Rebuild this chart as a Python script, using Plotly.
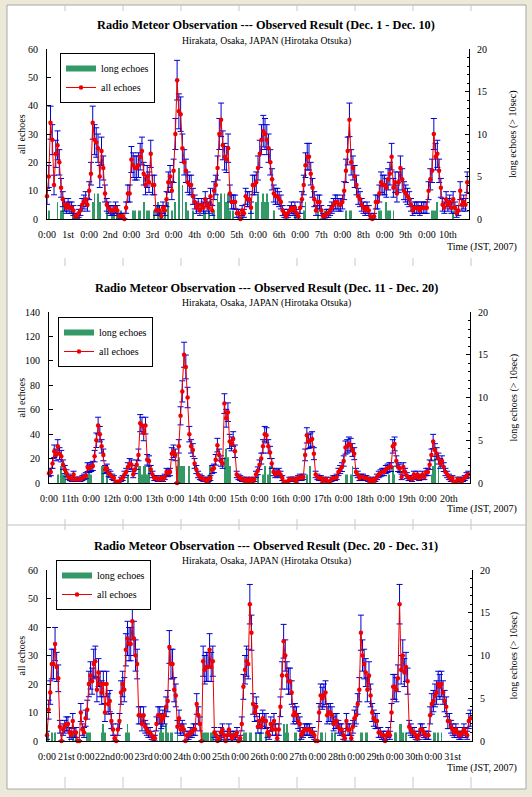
"""Radio meteor echo counts, Dec. 2007 (three 10-day panels)."""

import plotly.graph_objects as go

# ---------------------------------------------------------------- data
# hourly counts of all echoes, one row per day (0:00 .. 23:00 JST)
ALL_DEC01_10 = [
    8, 15, 34, 28, 12, 23, 26, 20, 11, 7, 5, 4, 5, 4, 4, 3, 1, 1, 2, 3, 5, 6, 7, 5,
    10, 16, 34, 28, 27, 25, 15, 24, 18, 9, 5, 4, 3, 3, 3, 4, 3, 1, 1, 1, 0, 4, 9, 9,
    21, 19, 18, 18, 19, 22, 24, 16, 12, 15, 13, 23, 12, 12, 3, 3, 3, 1, 4, 3, 7, 13, 15, 10,
    17, 30, 49, 38, 37, 25, 20, 17, 13, 12, 12, 8, 6, 4, 5, 3, 5, 4, 7, 5, 4, 8, 3, 10,
    12, 18, 30, 35, 26, 22, 21, 25, 9, 6, 6, 6, 2, 2, 0, 3, 2, 8, 7, 7, 4, 12, 12, 13,
    18, 23, 28, 31, 30, 28, 25, 20, 14, 9, 8, 8, 7, 6, 3, 2, 1, 2, 3, 4, 3, 4, 2, 1,
    4, 7, 12, 19, 22, 22, 16, 11, 7, 3, 6, 6, 3, 1, 1, 2, 2, 3, 4, 5, 6, 6, 5, 5,
    6, 10, 17, 24, 35, 20, 18, 15, 12, 8, 7, 5, 4, 3, 4, 3, 1, 0, 1, 6, 6, 9, 13, 12,
    12, 11, 14, 16, 22, 11, 13, 9, 13, 18, 14, 10, 9, 8, 7, 5, 3, 4, 4, 4, 3, 4, 4, 4,
    4, 10, 14, 17, 30, 22, 23, 17, 11, 5, 4, 7, 5, 6, 4, 7, 4, 2, 3, 10, 5, 6, 5, 13,
]
ALL_DEC11_20 = [
    8, 9, 16, 26, 23, 30, 24, 22, 15, 11, 8, 5, 4, 3, 7, 3, 3, 3, 3, 4, 5, 6, 13, 12,
    13, 14, 22, 35, 47, 40, 30, 23, 11, 12, 8, 7, 5, 4, 1, 1, 1, 3, 4, 7, 9, 13, 16, 15,
    7, 11, 15, 23, 49, 47, 41, 47, 19, 18, 11, 7, 4, 4, 3, 3, 4, 3, 5, 9, 8, 9, 24, 26,
    23, 0, 30, 55, 75, 105, 95, 70, 40, 30, 27, 16, 11, 7, 5, 4, 3, 3, 1, 3, 4, 11, 12, 19,
    31, 23, 18, 16, 65, 53, 58, 34, 32, 36, 26, 7, 5, 4, 3, 3, 1, 3, 1, 3, 1, 3, 7, 10,
    15, 20, 30, 40, 39, 30, 25, 16, 9, 7, 8, 9, 7, 4, 1, 1, 1, 3, 3, 3, 3, 1, 4, 5,
    4, 5, 23, 39, 34, 35, 36, 24, 7, 5, 4, 4, 1, 3, 3, 1, 1, 3, 4, 4, 5, 9, 11, 13,
    18, 29, 30, 32, 31, 27, 24, 9, 7, 4, 5, 5, 4, 4, 3, 1, 3, 1, 3, 5, 7, 8, 9, 9,
    11, 12, 13, 13, 30, 32, 18, 13, 12, 5, 13, 9, 6, 4, 4, 3, 7, 5, 7, 4, 5, 7, 5, 9,
    9, 15, 23, 34, 27, 24, 20, 16, 18, 13, 9, 7, 5, 3, 4, 1, 1, 3, 3, 1, 3, 4, 6, 7,
]
ALL_DEC21_31 = [
    2, 11, 17, 27, 27, 34, 26, 22, 5, 0, 4, 5, 6, 6, 3, 2, 7, 3, 3, 0, 0, 10, 4, 3,
    8, 11, 20, 23, 21, 27, 28, 18, 24, 20, 17, 20, 10, 20, 13, 14, 7, 4, 1, 0, 4, 7, 17, 20,
    18, 32, 36, 34, 34, 42, 36, 30, 27, 9, 9, 6, 9, 5, 4, 3, 3, 2, 1, 1, 6, 9, 9, 7,
    8, 9, 12, 14, 33, 27, 27, 18, 16, 5, 8, 4, 5, 4, 0, 2, 2, 3, 3, 4, 4, 13, 9, 6,
    0, 28, 25, 26, 26, 32, 26, 28, 3, 2, 0, 1, 3, 4, 2, 0, 2, 4, 2, 1, 2, 2, 3, 0,
    1, 6, 19, 25, 28, 27, 48, 38, 13, 10, 12, 5, 7, 5, 8, 7, 7, 3, 2, 6, 4, 7, 4, 1,
    4, 12, 23, 35, 30, 23, 21, 21, 17, 9, 10, 9, 7, 6, 2, 3, 4, 4, 4, 4, 3, 3, 2, 0,
    0, 10, 16, 15, 16, 17, 9, 10, 10, 9, 6, 7, 7, 5, 4, 4, 2, 1, 7, 4, 4, 1, 5, 8,
    9, 13, 18, 38, 30, 27, 24, 18, 23, 16, 10, 8, 7, 7, 3, 3, 2, 2, 0, 2, 3, 2, 10, 19,
    19, 18, 22, 48, 25, 30, 24, 26, 21, 5, 4, 3, 3, 2, 1, 2, 4, 4, 3, 2, 2, 2, 9, 13,
    14, 16, 17, 20, 19, 20, 17, 14, 12, 7, 7, 5, 4, 3, 4, 3, 2, 2, 3, 4, 3, 2, 7, 8,
]

# hourly counts of long echoes (> 10 sec)
LONG_DEC01_10 = [
    0, 1, 0, 0, 0, 0, 2, 0, 1, 2, 0, 0, 0, 0, 0, 1, 0, 0, 1, 0, 0, 0, 0, 0,
    0, 0, 2, 3, 0, 3, 2, 0, 0, 0, 1, 0, 0, 1, 1, 0, 1, 0, 1, 0, 0, 0, 0, 0,
    0, 1, 1, 0, 1, 1, 0, 2, 0, 1, 1, 0, 0, 1, 0, 2, 0, 1, 0, 1, 0, 2, 0, 1,
    0, 2, 0, 6, 0, 4, 0, 2, 1, 0, 0, 1, 0, 0, 0, 0, 0, 2, 1, 0, 1, 0, 0, 1,
    0, 3, 2, 3, 0, 3, 2, 3, 1, 0, 1, 0, 0, 0, 0, 1, 0, 0, 0, 0, 1, 0, 0, 2,
    3, 0, 2, 3, 2, 3, 2, 0, 0, 1, 0, 0, 0, 0, 0, 0, 0, 0, 0, 0, 0, 1, 0, 0,
    0, 0, 1, 2, 0, 0, 0, 0, 0, 0, 1, 0, 0, 0, 1, 0, 0, 0, 0, 0, 0, 0, 0, 0,
    0, 0, 1, 0, 1, 1, 0, 0, 0, 0, 0, 0, 0, 0, 0, 0, 0, 0, 0, 0, 0, 1, 1, 0,
    0, 2, 1, 1, 0, 1, 0, 0, 0, 0, 0, 0, 0, 0, 0, 0, 0, 0, 0, 0, 0, 0, 0, 0,
    0, 0, 0, 1, 1, 1, 2, 0, 0, 0, 0, 0, 0, 0, 0, 1, 0, 0, 0, 0, 0, 0, 0, 0,
]
LONG_DEC11_20 = [
    0, 0, 0, 0, 0, 1, 0, 2, 1, 2, 0, 0, 0, 0, 0, 0, 0, 0, 0, 0, 0, 0, 1, 2,
    1, 0, 0, 0, 0, 0, 2, 2, 0, 2, 0, 0, 0, 0, 0, 0, 0, 0, 0, 0, 0, 1, 0, 0,
    0, 0, 0, 2, 2, 1, 2, 2, 1, 2, 0, 0, 0, 0, 0, 0, 0, 0, 0, 0, 0, 0, 0, 0,
    0, 2, 3, 2, 2, 2, 0, 0, 2, 0, 0, 0, 0, 0, 0, 0, 0, 0, 0, 1, 2, 0, 0, 0,
    0, 0, 0, 0, 3, 4, 3, 2, 0, 0, 0, 0, 0, 0, 0, 0, 0, 0, 0, 0, 0, 0, 0, 1,
    0, 0, 1, 2, 0, 1, 2, 0, 0, 0, 0, 0, 0, 0, 0, 0, 0, 0, 0, 0, 0, 0, 0, 0,
    0, 0, 0, 1, 0, 2, 0, 0, 0, 0, 0, 0, 0, 0, 0, 0, 0, 0, 0, 0, 0, 0, 0, 0,
    0, 1, 1, 0, 1, 2, 0, 0, 0, 0, 0, 0, 0, 0, 0, 0, 0, 0, 0, 0, 0, 0, 0, 0,
    0, 0, 1, 0, 2, 1, 0, 0, 0, 0, 0, 0, 0, 0, 0, 0, 0, 0, 0, 0, 0, 0, 0, 0,
    0, 0, 1, 2, 3, 0, 2, 0, 0, 0, 0, 0, 0, 0, 0, 0, 0, 0, 0, 0, 0, 0, 0, 0,
]
LONG_DEC21_31 = [
    2, 1, 0, 1, 0, 1, 0, 0, 0, 1, 0, 0, 0, 0, 1, 0, 1, 0, 1, 0, 0, 0, 0, 0,
    0, 1, 1, 1, 0, 0, 0, 0, 0, 0, 1, 2, 1, 0, 0, 0, 0, 0, 0, 0, 0, 0, 0, 0,
    0, 1, 2, 1, 0, 0, 0, 0, 0, 0, 0, 0, 0, 0, 0, 0, 0, 0, 0, 0, 0, 0, 1, 2,
    1, 0, 2, 1, 0, 1, 1, 0, 0, 1, 0, 0, 0, 0, 0, 0, 0, 0, 0, 0, 0, 0, 0, 0,
    0, 1, 1, 1, 1, 0, 1, 1, 0, 0, 0, 0, 1, 0, 0, 0, 0, 0, 0, 1, 0, 0, 0, 0,
    0, 0, 1, 1, 1, 0, 1, 1, 0, 0, 1, 0, 1, 1, 0, 0, 1, 0, 0, 0, 0, 0, 0, 0,
    0, 0, 0, 2, 1, 2, 1, 0, 0, 0, 1, 1, 0, 1, 0, 0, 0, 0, 0, 0, 0, 0, 0, 0,
    0, 0, 1, 1, 0, 1, 0, 0, 0, 1, 0, 1, 0, 0, 0, 0, 0, 0, 0, 0, 0, 0, 0, 0,
    0, 0, 0, 1, 1, 0, 1, 1, 0, 0, 0, 0, 0, 0, 0, 0, 0, 0, 0, 0, 0, 0, 0, 0,
    1, 1, 0, 2, 2, 1, 0, 1, 0, 0, 0, 0, 0, 0, 0, 0, 0, 0, 0, 0, 0, 0, 0, 0,
    1, 1, 0, 1, 0, 1, 0, 0, 0, 0, 0, 0, 0, 0, 0, 0, 0, 0, 0, 0, 0, 0, 0, 0,
]

DAYS_DEC01_10 = ["1st", "2nd", "3rd", "4th", "5th", "6th", "7th", "8th", "9th", "10th"]
DAYS_DEC11_20 = ["11th", "12th", "13th", "14th", "15th", "16th", "17th", "18th", "19th", "20th"]
DAYS_DEC21_31 = ["21st", "22nd", "23rd", "24th", "25th", "26th", "27th", "28th", "29th", "30th", "31st"]

TITLES = [
    "Radio Meteor Observation --- Observed Result (Dec. 1 - Dec. 10)",
    "Radio Meteor Observation --- Observed Result (Dec. 11 - Dec. 20)",
    "Radio Meteor Observation --- Observed Result (Dec. 20 - Dec. 31)",
]
SUBTITLE = "Hirakata, Osaka, JAPAN (Hirotaka Otsuka)"
LEFT_MAX = [60, 140, 60]
LEFT_DTICK = [10, 20, 10]
RIGHT_MAX = 20

# ---------------------------------------------------------------- layout (pixels)
W, H = 532, 797
FONT = "Liberation Serif"
GREEN = "#339966"
RED = "#f00000"
BLUE = "#0000d0"
BEIGE = "#ece9d8"

GEOM = [
    dict(x0=47, x1=469, top=49, bottom=219, title=25, sub=41, time=247, leg=(60, 53)),
    dict(x0=49, x1=470, top=312, bottom=483, title=288, sub=303, time=509, leg=(58, 317)),
    dict(x0=47, x1=472, top=570, bottom=741, title=546, sub=561, time=768, leg=(56, 560)),
]


def px_x(v):
    return v / W


def px_y(v):
    return 1 - v / H


panels = [
    (ALL_DEC01_10, LONG_DEC01_10, DAYS_DEC01_10),
    (ALL_DEC11_20, LONG_DEC11_20, DAYS_DEC11_20),
    (ALL_DEC21_31, LONG_DEC21_31, DAYS_DEC21_31),
]

fig = go.Figure()
layout = {}
annotations = []
tickfont = dict(family=FONT, size=10, color="black")

for k, ((all_echoes, long_echoes, days), g) in enumerate(zip(panels, GEOM), start=1):
    sfx = "" if k == 1 else str(k)
    xid = "x" + sfx
    y_long = "y" if k == 1 else f"y{2 * k - 1}"
    y_all = f"y{2 * k}"
    leg = "legend" + sfx
    hours = list(range(len(all_echoes)))

    # legend swatch for the long echoes (wide flat bar like the original)
    fig.add_trace(go.Scatter(
        x=[None], y=[None], mode="lines", name="long echoes",
        line=dict(color=GREEN, width=6), xaxis=xid, yaxis=y_long, legend=leg,
    ))
    fig.add_trace(go.Bar(
        x=hours, y=long_echoes, width=0.45, marker=dict(color=GREEN, line_width=0),
        showlegend=False, xaxis=xid, yaxis=y_long,
    ))
    fig.add_trace(go.Scatter(
        x=hours, y=all_echoes, mode="lines+markers", name="all echoes",
        line=dict(color=RED, width=1), marker=dict(color=RED, size=4.5),
        error_y=dict(type="sqrt", color=BLUE, thickness=1, width=3),
        cliponaxis=False, xaxis=xid, yaxis=y_all, legend=leg,
    ))

    tickvals, ticktext = [], []
    for d, label in enumerate(days):
        tickvals += [24 * d, 24 * d + 12]
        ticktext += ["0:00", label]

    dom_y = [px_y(g["bottom"]), px_y(g["top"])]
    layout["xaxis" + sfx] = dict(
        domain=[px_x(g["x0"]), px_x(g["x1"])], anchor=y_long,
        range=[0, len(all_echoes)], tickvals=tickvals, ticktext=ticktext, tickangle=0,
        showline=True, linecolor="black", linewidth=1, ticks="",
        showgrid=False, zeroline=False, tickfont=tickfont, ticklabelstandoff=6,
        automargin=False,
    )
    layout["yaxis" + y_long[1:]] = dict(
        domain=dom_y, anchor=xid, side="right", range=[0, RIGHT_MAX], dtick=5,
        showline=True, linecolor="black", linewidth=1, ticks="inside", ticklen=4,
        tickcolor="black", minor=dict(dtick=1, ticks="inside", ticklen=2, tickcolor="black"),
        showgrid=False, zeroline=False, tickfont=tickfont, ticklabelstandoff=5,
        automargin=False,
    )
    layout["yaxis" + y_all[1:]] = dict(
        overlaying=y_long, anchor=xid, side="left", range=[0, LEFT_MAX[k - 1]],
        dtick=LEFT_DTICK[k - 1], showline=True, linecolor="black", linewidth=1,
        ticks="inside", ticklen=4, tickcolor="black",
        showgrid=False, zeroline=False, tickfont=tickfont, ticklabelstandoff=6,
        automargin=False,
    )
    layout[leg] = dict(
        x=px_x(g["leg"][0]), y=px_y(g["leg"][1]), xanchor="left", yanchor="top",
        bgcolor="white", bordercolor="black", borderwidth=1, itemwidth=30,
        tracegroupgap=0, font=dict(family=FONT, size=10, color="black"),
    )

    mid = (g["top"] + g["bottom"]) / 2
    annotations += [
        dict(text=TITLES[k - 1], x=px_x(266), y=px_y(g["title"]),
             font=dict(family=FONT, size=12.3, color="black", weight="bold")),
        dict(text=SUBTITLE, x=px_x(266), y=px_y(g["sub"]),
             font=dict(family=FONT, size=9.7, color="black")),
        dict(text="all echoes", x=px_x(21), y=px_y(mid), textangle=-90,
             font=dict(family=FONT, size=10, color="black")),
        dict(text="long echoes (> 10sec)", x=px_x(513), y=px_y(mid), textangle=-90,
             font=dict(family=FONT, size=10, color="black")),
        dict(text="Time (JST, 2007)", x=px_x(519), y=px_y(g["time"]), xanchor="right",
             font=dict(family=FONT, size=10, color="black")),
    ]

for a in annotations:
    a.update(xref="paper", yref="paper", showarrow=False)
    a.setdefault("xanchor", "center")
    a.setdefault("yanchor", "middle")

# page frame: white sheet on a beige window, with faint ruler marks
shapes = [
    dict(type="rect", xref="paper", yref="paper", x0=px_x(7), x1=px_x(526),
         y0=px_y(789), y1=px_y(5), fillcolor="white",
         line=dict(color="#a8a8a8", width=1), layer="below"),
    dict(type="line", xref="paper", yref="paper", x0=px_x(7), x1=px_x(526),
         y0=px_y(525), y1=px_y(525), line=dict(color="#c0c0c0", width=1), layer="below"),
]
for top, bot in [(5, 11), (258, 266), (519, 530), (777, 788)]:
    for i in range(8):
        xm = 65 + 58 * i
        shapes.append(dict(type="line", xref="paper", yref="paper",
                           x0=px_x(xm), x1=px_x(xm), y0=px_y(bot), y1=px_y(top),
                           line=dict(color="#c8c8c8", width=1), layer="below"))

fig.update_layout(
    width=W, height=H, autosize=False,
    margin=dict(l=0, r=0, t=0, b=0, pad=0, autoexpand=False),
    paper_bgcolor=BEIGE, plot_bgcolor="white",
    showlegend=True, annotations=annotations, shapes=shapes,
    font=dict(family=FONT, color="black"),
    **layout,
)

# the page's default body margin would shift the figure; drop it
fig.write_html(
    "out.html",
    config={"displayModeBar": False},
    post_script="document.body.style.margin = '0';",
)
